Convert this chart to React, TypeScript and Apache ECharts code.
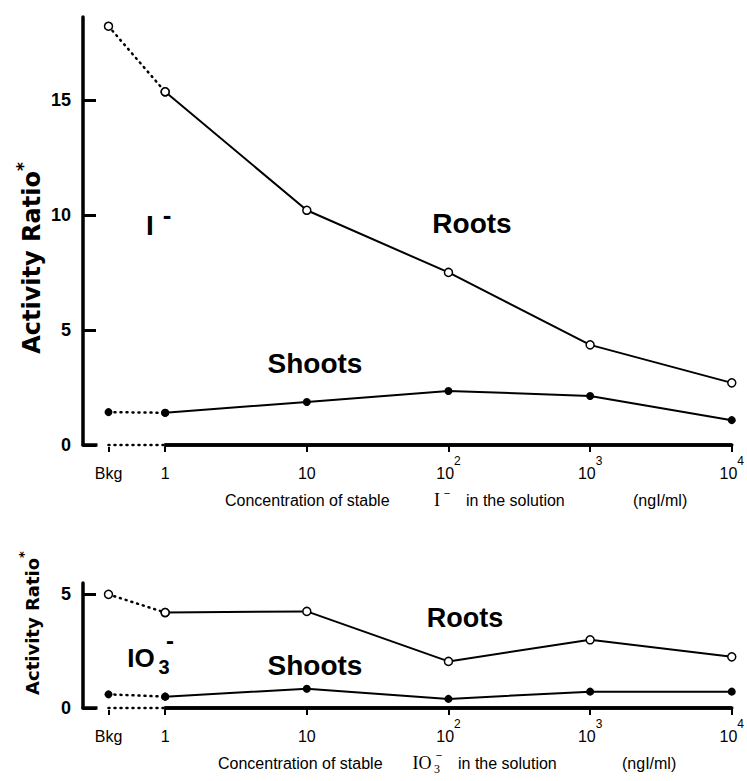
import React, { useEffect, useRef } from "react";
import * as echarts from "echarts";

// Concentration categories (Bkg = background, placed left of 1 on the log scale)
const categories = ["Bkg", "1", "10", "10^2", "10^3", "10^4"];
const logConc = [-0.4, 0, 1, 2, 3, 4];

// Panel 1: iodide (I-)
const iodideRoots = [18.2, 15.35, 10.2, 7.5, 4.35, 2.7];
const iodideShoots = [1.43, 1.4, 1.87, 2.35, 2.13, 1.08];

// Panel 2: iodate (IO3-)
const iodateRoots = [5.0, 4.2, 4.25, 2.05, 3.0, 2.25];
const iodateShoots = [0.6, 0.5, 0.85, 0.4, 0.72, 0.72];

const topYTicks = [0, 5, 10, 15];
const bottomYTicks = [0, 5];

const SANS = "Liberation Sans, Arial, Helvetica, sans-serif";
const SERIF = "Liberation Serif, Times New Roman, serif";
const WIDE = "DejaVu Sans, Verdana, sans-serif";

const fmtX = (v: number) => {
  const i = logConc.findIndex((x) => Math.abs(x - v) < 1e-6);
  if (i < 0) return "";
  const parts = categories[i].split("^");
  return parts.length === 2 ? `{b|${parts[0]}}{s|${parts[1]}}` : `{b|${categories[i]}}`;
};

const xAxisCfg = (gridIndex: number) => ({
  type: "value",
  gridIndex,
  min: -0.58,
  max: 4,
  axisLine: { show: true, onZero: false, lineStyle: { color: "#000", width: 3.5 } },
  splitLine: { show: false },
  axisTick: {
    show: true,
    customValues: logConc,
    length: 7,
    lineStyle: { color: "#000", width: 2 },
  },
  axisLabel: {
    show: true,
    customValues: logConc,
    formatter: fmtX,
    margin: 10,
    rich: {
      b: { fontSize: 16, fontFamily: SANS, color: "#000", lineHeight: 26, verticalAlign: "bottom" },
      s: { fontSize: 12, fontFamily: SANS, color: "#000", lineHeight: 17, verticalAlign: "top" },
    },
  },
});

const yAxisCfg = (gridIndex: number, max: number, ticks: number[]) => ({
  type: "value",
  gridIndex,
  min: 0,
  max,
  splitLine: { show: false },
  axisLine: { show: true, onZero: false, lineStyle: { color: "#000", width: 3.5 } },
  axisTick: {
    show: true,
    inside: true,
    customValues: ticks,
    length: 13,
    lineStyle: { color: "#000", width: 3 },
  },
  axisLabel: {
    show: true,
    customValues: ticks,
    margin: 12,
    color: "#000",
    fontSize: 18,
    fontWeight: "bold",
    fontFamily: SANS,
  },
  z: 1,
});

const dotted = { color: "#000", width: 2.5, type: [1, 5], cap: "round" };
const solid = { color: "#000", width: 2 };

const seg = (vals: number[], from: number, to: number) =>
  logConc.slice(from, to).map((x, k) => [x, vals[from + k]]);

// zero line: dotted from Bkg to 1, solid from 1 to 10^4
const last = logConc.length - 1;
const baselineSegs = [
  [logConc[0], logConc[1], 1],
  [logConc[1], logConc[last], 0],
];

const baselineSeries = (idx: number) => ({
  type: "custom",
  xAxisIndex: idx,
  yAxisIndex: idx,
  silent: true,
  z: 2,
  data: baselineSegs,
  renderItem: (params: any, api: any) => {
    const a = api.coord([api.value(0), 0]);
    const b = api.coord([api.value(1), 0]);
    const isDot = api.value(2) === 1;
    if (isDot) {
      return {
        type: "group",
        children: [
          {
            type: "rect",
            shape: { x: a[0] - 11, y: a[1] - 3, width: b[0] - a[0] + 10, height: 5 },
            style: { fill: "#fff", stroke: null },
          },
          {
            type: "line",
            shape: { x1: a[0], y1: a[1], x2: b[0], y2: b[1] },
            style: { stroke: "#000", lineWidth: 2.5, lineDash: [1, 5], lineCap: "round" },
          },
        ],
      };
    }
    return {
      type: "rect",
      shape: { x: a[0], y: a[1] - 1.75, width: b[0] - a[0], height: 3.5 },
      style: { fill: "#000", stroke: null },
    };
  },
});

const panelSeries = (roots: number[], shoots: number[], idx: number) => {
  const base = { type: "line", xAxisIndex: idx, yAxisIndex: idx, clip: false, silent: true };
  const open = { symbol: "circle", symbolSize: 8, itemStyle: { color: "#fff", borderColor: "#000", borderWidth: 1.5 } };
  const filled = { symbol: "circle", symbolSize: 8, itemStyle: { color: "#000", borderColor: "#000", borderWidth: 0 } };
  return [
    baselineSeries(idx),
    { ...base, data: seg(roots, 0, 2), lineStyle: dotted, ...open, z: 3 },
    { ...base, data: seg(roots, 1, 6), lineStyle: solid, ...open, z: 4 },
    { ...base, data: seg(shoots, 0, 2), lineStyle: dotted, ...filled, z: 3 },
    { ...base, data: seg(shoots, 1, 6), lineStyle: solid, ...filled, z: 4 },
  ];
};

const t = (x: number, y: number, text: string, fontSize: number, fontWeight: string, fontFamily: string, align = "center") => ({
  type: "text",
  x,
  y,
  z: 10,
  style: { text, fontSize, fontWeight, fontFamily, fill: "#000", align, verticalAlign: "middle" },
});

const yTitle = (x: number, y: number, size: number) => ({
  type: "text",
  x,
  y,
  rotation: Math.PI / 2,
  z: 10,
  style: {
    text: "{a|Activity Ratio}{s|*}",
    align: "center",
    verticalAlign: "middle",
    fill: "#000",
    rich: {
      a: { fontSize: size, fontWeight: "bold", fontFamily: WIDE, fill: "#000", lineHeight: size + 6, verticalAlign: "bottom" },
      s: { fontSize: Math.round(size * 0.7), fontWeight: "bold", fontFamily: WIDE, fill: "#000", lineHeight: size * 0.7, verticalAlign: "top" },
    },
  },
});

export default function App() {
  const ref = useRef<HTMLDivElement>(null);
  useEffect(() => {
    if (!ref.current) return;
    const chart = echarts.init(ref.current, null, { renderer: "svg" });
    chart.setOption({
      animation: false,
      backgroundColor: "#fff",
      grid: [
        { left: 83, top: 17, width: 653, height: 428 },
        { left: 83, top: 583, width: 653, height: 125 },
      ],
      xAxis: [xAxisCfg(0), xAxisCfg(1)],
      yAxis: [yAxisCfg(0, 18.6, topYTicks), yAxisCfg(1, 5.5, bottomYTicks)],
      series: [...panelSeries(iodideRoots, iodideShoots, 0), ...panelSeries(iodateRoots, iodateShoots, 1)],
      graphic: [
        // top panel
        yTitle(29, 258, 24),
        t(150, 225, "I", 28, "bold", SANS),
        t(167, 215, "-", 26, "bold", SANS),
        t(472, 223, "Roots", 28, "bold", SANS),
        t(315, 363, "Shoots", 28, "bold", SANS),
        t(225, 500, "Concentration of stable", 16, "normal", SANS, "left"),
        t(437, 500, "I", 18, "normal", SERIF),
        t(447, 493, "−", 11, "normal", SANS),
        t(466, 500, "in the solution", 16, "normal", SANS, "left"),
        t(633, 500, "(ngI/ml)", 16, "normal", SANS, "left"),
        // bottom panel
        yTitle(29, 623, 18),
        t(141, 658, "IO", 26, "bold", SANS),
        t(164, 667, "3", 20, "bold", SANS),
        t(170, 640, "-", 24, "bold", SANS),
        t(465, 618, "Roots", 27, "bold", SANS),
        t(315, 665, "Shoots", 28, "bold", SANS),
        t(218, 763, "Concentration of stable", 16, "normal", SANS, "left"),
        t(422, 763, "IO", 18, "normal", SERIF),
        t(437, 769, "3", 12, "normal", SERIF),
        t(439, 755, "−", 11, "normal", SANS),
        t(458, 763, "in the solution", 16, "normal", SANS, "left"),
        t(622, 763, "(ngI/ml)", 16, "normal", SANS, "left"),
      ],
    });
    return () => chart.dispose();
  }, []);
  return <div ref={ref} style={{ position: "absolute", left: 0, top: 0, width: 747, height: 781 }} />;
}
